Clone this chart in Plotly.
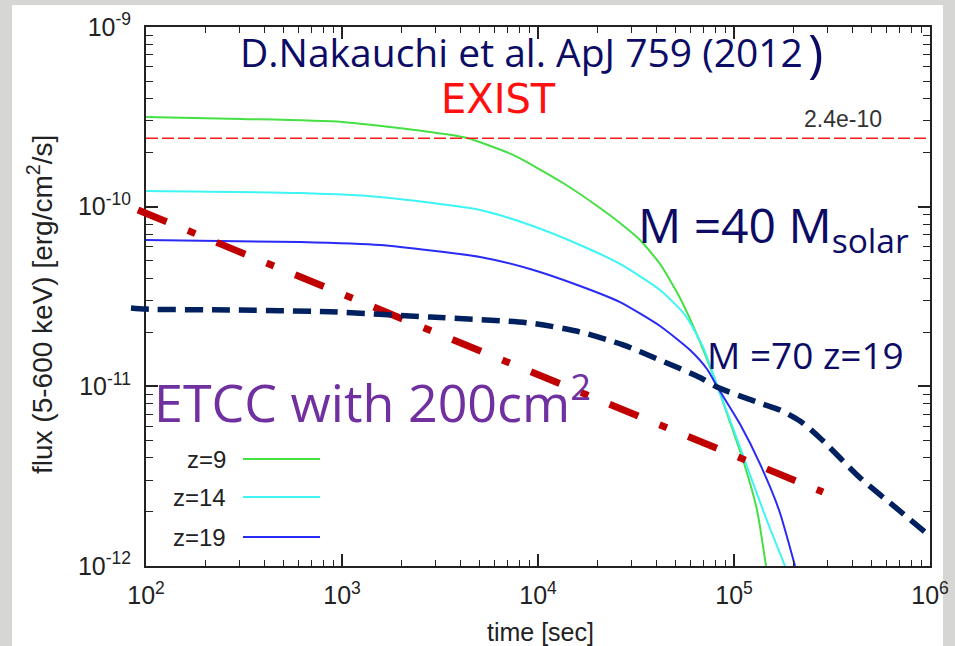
import plotly.graph_objects as go

W, H = 955, 646

# ---- data: M = 40 Msolar light curves (EXIST band), time [s] vs flux [erg/cm^2/s]
t_z9 = [100, 309, 1000, 2812, 4343, 7455, 13420, 20720, 26200, 33150, 41920,
        53030, 67070, 82870, 96540, 111200, 131000, 145600]
f_z9 = [3.154e-10, 3.076e-10, 2.96e-10, 2.603e-10, 2.411e-10, 1.94e-10, 1.354e-10,
        9.83e-11, 8.11e-11, 6.52e-11, 4.80e-11, 3.10e-11, 1.765e-11, 9.79e-12,
        6.09e-12, 3.89e-12, 2.05e-12, 1.0e-12]

t_z14 = [100, 611, 1563, 5060, 9104, 16380, 26200, 41920, 56230, 69450, 82870,
         98830, 119300, 145600, 182000]
f_z14 = [1.222e-10, 1.191e-10, 1.132e-10, 9.58e-11, 7.91e-11, 6.12e-11, 4.80e-11,
         3.44e-11, 2.495e-11, 1.656e-11, 9.79e-12, 5.86e-12, 3.335e-12, 1.85e-12,
         1.0e-12]

t_z19 = [100, 611, 1563, 5060, 9104, 16380, 26200, 41920, 59650, 72810, 82870,
         107300, 135700, 169700, 204800]
f_z19 = [6.52e-11, 6.36e-11, 6.12e-11, 5.25e-11, 4.50e-11, 3.62e-11, 2.945e-11,
         2.168e-11, 1.593e-11, 1.249e-11, 9.79e-12, 6.17e-12, 3.70e-12, 2.05e-12,
         1.0e-12]

# EXIST sensitivity
exist_flux = 2.4e-10
exist_t = [100, 1e6]

# M = 70 Msolar, z = 19
t_m70 = [83.8, 100, 268, 869, 2812, 9100, 16370, 27160, 41900, 67070, 82870,
         135700, 171700, 217200, 274700, 439300, 703000, 955000]
f_m70 = [2.73e-11, 2.69e-11, 2.66e-11, 2.60e-11, 2.43e-11, 2.25e-11, 2.01e-11,
         1.70e-11, 1.40e-11, 1.12e-11, 9.85e-12, 8.07e-12, 7.38e-12, 6.41e-12,
         5.16e-12, 3.10e-12, 2.02e-12, 1.53e-12]

# ETCC (200 cm^2) sensitivity
t_etcc = [91.0, 284600]
f_etcc = [9.58e-11, 2.58e-12]

x_ticks = [1e2, 1e3, 1e4, 1e5, 1e6]
x_ticktext = ["10<sup>2</sup>", "10<sup>3</sup>", "10<sup>4</sup>", "10<sup>5</sup>", "10<sup>6</sup>"]
y_ticks = [1e-12, 1e-11, 1e-10, 1e-9]
y_ticktext = ["10<sup>-12</sup>", "10<sup>-11</sup>", "10<sup>-10</sup>", "10<sup>-9</sup>"]

legend_labels = ["z=9", "z=14", "z=19"]
curve_colors = ["#44e044", "#3ff4f4", "#2a2af5"]

# ---- layout geometry (pixels)
ml, mr, mt, mb = 110, 10, 8, 50
pw, ph = W - ml - mr, H - mt - mb
fx0, fx1 = 146, 930      # frame left / right
fy0, fy1 = 27, 566       # frame top / bottom


def px(x):
    return (x - ml) / pw


def py(y):
    return (H - mb - y) / ph


dx = [px(fx0), px(fx1)]
dy = [py(fy1), py(fy0)]
xr = [2, 6]
yr = [-12, -9]
sx = (xr[1] - xr[0]) / (dx[1] - dx[0])
sy = (yr[1] - yr[0]) / (dy[1] - dy[0])
xr2 = [xr[0] - dx[0] * sx, xr[1] + (1 - dx[1]) * sx]
yr2 = [yr[0] - dy[0] * sy, yr[1] + (1 - dy[1]) * sy]

fig = go.Figure()

for t, f, c in [(t_z9, f_z9, curve_colors[0]), (t_z14, f_z14, curve_colors[1]),
                (t_z19, f_z19, curve_colors[2])]:
    fig.add_trace(go.Scatter(x=t, y=f, mode="lines",
                             line=dict(color=c, width=2, shape="spline", smoothing=0.6),
                             showlegend=False, hoverinfo="skip"))

fig.add_trace(go.Scatter(x=exist_t, y=[exist_flux] * 2, mode="lines",
                         line=dict(color="#ff1a1a", width=1.5, dash="12px,4px"),
                         showlegend=False, hoverinfo="skip"))

# overlay curves on a wider, invisible pair of axes sharing the same scale
fig.add_trace(go.Scatter(x=t_etcc, y=f_etcc, mode="lines", xaxis="x2", yaxis="y2",
                         line=dict(color="#c00000", width=7, dash="31px,23px,8px,23px"),
                         showlegend=False, hoverinfo="skip"))
fig.add_trace(go.Scatter(x=t_m70, y=f_m70, mode="lines", xaxis="x2", yaxis="y2",
                         line=dict(color="#002060", width=5.5, dash="18px,9px",
                                   shape="spline", smoothing=0.7),
                         showlegend=False, hoverinfo="skip"))

minor_x = [m * 10 ** e for e in range(2, 6) for m in range(2, 10)]
minor_y = [m * 10.0 ** e for e in range(-12, -9) for m in range(2, 10)]
tick_font = dict(family="Liberation Sans, Arial, sans-serif", size=25, color="#222")

axis_common = dict(type="log", showline=True, linecolor="#222", linewidth=2,
                   mirror="ticks", ticks="inside", ticklen=12, tickwidth=1.5,
                   tickcolor="#222", showgrid=False, zeroline=False,
                   tickfont=tick_font, tickmode="array", automargin=False)

fig.update_layout(
    width=W, height=H,
    margin=dict(l=ml, r=mr, t=mt, b=mb, autoexpand=False),
    paper_bgcolor="#d6d6d4",
    plot_bgcolor="rgba(0,0,0,0)",
    xaxis=dict(**axis_common, range=xr, domain=dx, anchor="y",
               tickvals=x_ticks, ticktext=x_ticktext, ticklabelstandoff=6,
               minor=dict(tickvals=minor_x, ticks="inside", ticklen=6,
                          tickwidth=1.2, tickcolor="#222")),
    yaxis=dict(**axis_common, range=yr, domain=dy, anchor="x",
               tickvals=y_ticks, ticktext=y_ticktext, ticklabelstandoff=8,
               minor=dict(tickvals=minor_y, ticks="inside", ticklen=7,
                          tickwidth=1.2, tickcolor="#222")),
    xaxis2=dict(type="log", range=xr2, domain=[0, 1], anchor="y2", visible=False,
                automargin=False),
    yaxis2=dict(type="log", range=yr2, domain=[0, 1], anchor="x2", visible=False,
                automargin=False),
    showlegend=False,
)

shapes = [dict(type="rect", xref="paper", yref="paper", layer="below",
               x0=px(12), x1=px(943), y0=py(5), y1=py(H + 20),
               fillcolor="white", line=dict(width=0))]

# legend keys
legend_y = [459, 497, 537]
for c, yy in zip(curve_colors, legend_y):
    shapes.append(dict(type="line", xref="paper", yref="paper",
                       x0=px(243), x1=px(320), y0=py(yy), y1=py(yy),
                       line=dict(color=c, width=2)))
fig.update_layout(shapes=shapes)

hand = "Open Sans, Noto Sans, sans-serif"
wide = "DejaVu Sans, sans-serif"
label_font = "Liberation Sans, Arial, sans-serif"
navy = "#0c0c66"
ann = []
for lab, yy in zip(legend_labels, legend_y):
    ann.append(dict(text=lab, x=px(228), y=py(yy), xref="paper", yref="paper",
                    xanchor="right", yanchor="middle", showarrow=False,
                    font=dict(family=label_font, size=24, color="#222")))

ann += [
    dict(text="time [sec]", x=px(540), y=py(632), xref="paper", yref="paper",
         xanchor="center", yanchor="middle", showarrow=False,
         font=dict(family=label_font, size=25, color="#222")),
    dict(text="flux (5-600 keV) [erg/cm<sup>2</sup>/s]", x=px(40), y=py(305),
         xref="paper", yref="paper", textangle=-90, xanchor="center",
         yanchor="middle", showarrow=False,
         font=dict(family=label_font, size=28, color="#222")),
    dict(text="2.4e-10", x=px(884), y=py(134), xref="paper", yref="paper",
         xanchor="right", yanchor="bottom", showarrow=False,
         font=dict(family=label_font, size=23, color="#333")),
    dict(text="D.Nakauchi et al. ApJ 759 (2012", x=px(238), y=py(52),
         xref="paper", yref="paper", xanchor="left", yanchor="middle",
         showarrow=False, font=dict(family=hand, size=39, color=navy)),
    dict(text=")", x=px(806), y=py(51), xref="paper", yref="paper",
         xanchor="left", yanchor="middle", showarrow=False,
         font=dict(family=hand, size=52, color=navy)),
    dict(text="EXIST", x=px(498), y=py(99), xref="paper", yref="paper",
         xanchor="center", yanchor="middle", showarrow=False,
         font=dict(family=wide, size=40, color="#ff1010")),
    dict(text="M =40 M<sub>solar</sub>", x=px(636), y=py(228), xref="paper",
         yref="paper", xanchor="left", yanchor="middle", showarrow=False,
         font=dict(family=hand, size=48, color=navy)),
    dict(text="M =70 z=19", x=px(705), y=py(354), xref="paper", yref="paper",
         xanchor="left", yanchor="middle", showarrow=False,
         font=dict(family=hand, size=37, color=navy)),
    dict(text="ETCC with 200cm<sup>2</sup>", x=px(152), y=py(399), xref="paper",
         yref="paper", xanchor="left", yanchor="middle", showarrow=False,
         font=dict(family=hand, size=52, color="#7030a0")),
]
fig.update_layout(annotations=ann)

fig.write_html("out.html")
